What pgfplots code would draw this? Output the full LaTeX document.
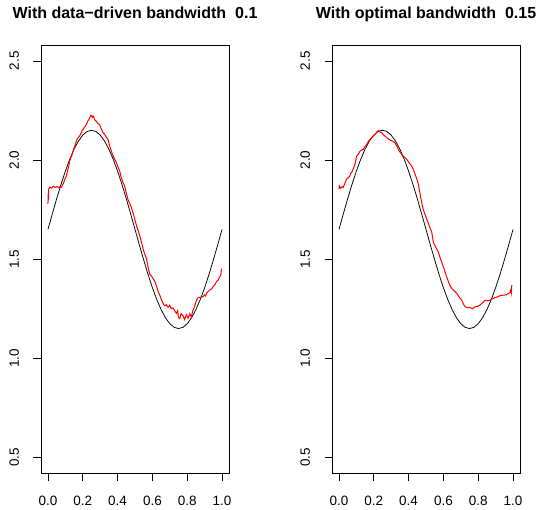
\documentclass[border=0pt]{standalone}
\usepackage{fontspec}
\setmainfont{Liberation Sans}
\usepackage{pgfplots}
\pgfplotsset{compat=1.18}
\usepackage{pgfplotstable}

\pgfplotstableread{
x y
0.000 1.6500
0.025 1.7282
0.050 1.8045
0.075 1.8770
0.100 1.9439
0.125 2.0036
0.150 2.0545
0.175 2.0955
0.200 2.1256
0.225 2.1439
0.250 2.1500
0.275 2.1439
0.300 2.1256
0.325 2.0955
0.350 2.0545
0.375 2.0036
0.400 1.9439
0.425 1.8770
0.450 1.8045
0.475 1.7282
0.500 1.6500
0.525 1.5718
0.550 1.4955
0.575 1.4230
0.600 1.3561
0.625 1.2964
0.650 1.2455
0.675 1.2045
0.700 1.1744
0.725 1.1561
0.750 1.1500
0.775 1.1561
0.800 1.1744
0.825 1.2045
0.850 1.2455
0.875 1.2964
0.900 1.3561
0.925 1.4230
0.950 1.4955
0.975 1.5718
1.000 1.6500
}\truecurve

\pgfplotstableread{
x y
0.000 1.778
0.001 1.830
0.003 1.800
0.004 1.853
0.010 1.863
0.020 1.858
0.030 1.868
0.040 1.862
0.050 1.866
0.060 1.860
0.070 1.865
0.077 1.862
0.086 1.878
0.092 1.890
0.098 1.905
0.106 1.920
0.112 1.945
0.118 1.962
0.125 1.995
0.130 2.010
0.136 2.020
0.144 2.045
0.150 2.060
0.156 2.075
0.163 2.095
0.170 2.110
0.176 2.115
0.182 2.121
0.190 2.135
0.196 2.148
0.201 2.154
0.210 2.165
0.216 2.172
0.221 2.179
0.228 2.195
0.235 2.205
0.240 2.213
0.245 2.225
0.249 2.224
0.255 2.215
0.259 2.222
0.263 2.216
0.270 2.200
0.278 2.196
0.285 2.185
0.297 2.179
0.305 2.160
0.315 2.140
0.326 2.129
0.335 2.115
0.345 2.104
0.355 2.070
0.364 2.045
0.370 2.030
0.380 2.010
0.393 1.987
0.400 1.970
0.412 1.945
0.420 1.915
0.431 1.887
0.440 1.870
0.451 1.830
0.460 1.800
0.470 1.780
0.479 1.760
0.490 1.730
0.498 1.703
0.510 1.665
0.520 1.640
0.527 1.619
0.536 1.590
0.546 1.553
0.556 1.525
0.566 1.503
0.575 1.460
0.584 1.425
0.595 1.415
0.605 1.400
0.613 1.390
0.625 1.360
0.634 1.335
0.642 1.319
0.652 1.295
0.661 1.277
0.670 1.265
0.680 1.270
0.690 1.258
0.700 1.268
0.708 1.250
0.718 1.255
0.728 1.240
0.738 1.227
0.745 1.240
0.750 1.205
0.757 1.200
0.765 1.225
0.776 1.215
0.785 1.195
0.795 1.220
0.805 1.202
0.815 1.225
0.824 1.208
0.832 1.240
0.843 1.262
0.852 1.290
0.862 1.306
0.875 1.308
0.891 1.311
0.900 1.320
0.905 1.315
0.912 1.330
0.920 1.336
0.930 1.345
0.940 1.350
0.948 1.361
0.958 1.370
0.968 1.386
0.978 1.395
0.987 1.411
0.993 1.420
0.997 1.452
}\leftred

\pgfplotstableread{
x y
0.000 1.853
0.002 1.870
0.010 1.858
0.020 1.865
0.025 1.862
0.035 1.885
0.044 1.904
0.055 1.912
0.063 1.920
0.068 1.935
0.073 1.937
0.082 1.955
0.092 1.979
0.097 2.000
0.102 2.020
0.112 2.030
0.121 2.045
0.130 2.050
0.140 2.054
0.150 2.068
0.159 2.079
0.170 2.095
0.180 2.105
0.188 2.113
0.197 2.120
0.207 2.129
0.216 2.140
0.226 2.149
0.235 2.142
0.245 2.138
0.255 2.128
0.264 2.121
0.278 2.110
0.293 2.101
0.308 2.095
0.322 2.087
0.332 2.070
0.341 2.054
0.350 2.040
0.360 2.029
0.375 2.015
0.389 2.004
0.404 1.985
0.418 1.970
0.428 1.950
0.437 1.929
0.447 1.905
0.456 1.878
0.470 1.810
0.480 1.765
0.490 1.735
0.504 1.703
0.518 1.670
0.533 1.636
0.542 1.586
0.556 1.560
0.571 1.536
0.580 1.510
0.590 1.486
0.600 1.460
0.609 1.436
0.619 1.410
0.629 1.386
0.638 1.365
0.648 1.352
0.662 1.340
0.677 1.327
0.690 1.310
0.705 1.293
0.714 1.275
0.724 1.260
0.738 1.255
0.753 1.256
0.768 1.250
0.782 1.260
0.796 1.262
0.810 1.268
0.825 1.280
0.839 1.293
0.853 1.290
0.868 1.293
0.882 1.300
0.897 1.306
0.911 1.310
0.925 1.316
0.940 1.318
0.954 1.319
0.965 1.322
0.973 1.327
0.982 1.330
0.987 1.344
0.990 1.330
0.993 1.369
}\rightred

\pgfplotsset{
  rpanel/.style={
    anchor=south west,
    width=188bp, height=428.3bp, scale only axis,
    xmin=-0.04, xmax=1.04, ymin=0.42, ymax=2.58,
    axis line style={black, line width=0.6bp},
    xtick={0,0.2,0.4,0.6,0.8,1.0},
    ytick={0.5,1.0,1.5,2.0,2.5},
    tick align=outside,
    major tick length=7.5bp,
    tick style={black, line width=0.6bp},
    xtick pos=bottom, ytick pos=left,
    /pgf/number format/assume math mode=true,
    /pgf/number format/fixed,
    /pgf/number format/fixed zerofill,
    /pgf/number format/precision=1,
    ticklabel style={font=\fontsize{13.5bp}{15bp}\selectfont},
    xticklabel style={anchor=north, yshift=-12bp},
    yticklabel style={xshift=-11bp, rotate=90, anchor=south},
    clip=false,
  }
}

\begin{document}
\begin{tikzpicture}
\useasboundingbox (0,0) rectangle (537bp,510bp);
\begin{axis}[rpanel, at={(41bp,36.7bp)}]
  \addplot[black, line width=0.75bp, no marks] table[x=x,y=y] {\truecurve};
  \addplot[red, line width=1bp, no marks] table[x=x,y=y] {\leftred};
\end{axis}
\begin{axis}[rpanel, at={(332bp,36.7bp)}]
  \addplot[black, line width=0.75bp, no marks] table[x=x,y=y] {\truecurve};
  \addplot[red, line width=1bp, no marks] table[x=x,y=y] {\rightred};
\end{axis}
\node[anchor=base, font=\fontsize{16bp}{18bp}\selectfont\bfseries] at (135bp,491.5bp) {With data−driven bandwidth\ \ 0.1};
\node[anchor=base, font=\fontsize{16bp}{18bp}\selectfont\bfseries] at (426bp,491.5bp) {With optimal bandwidth\ \ 0.15};
\end{tikzpicture}
\end{document}
